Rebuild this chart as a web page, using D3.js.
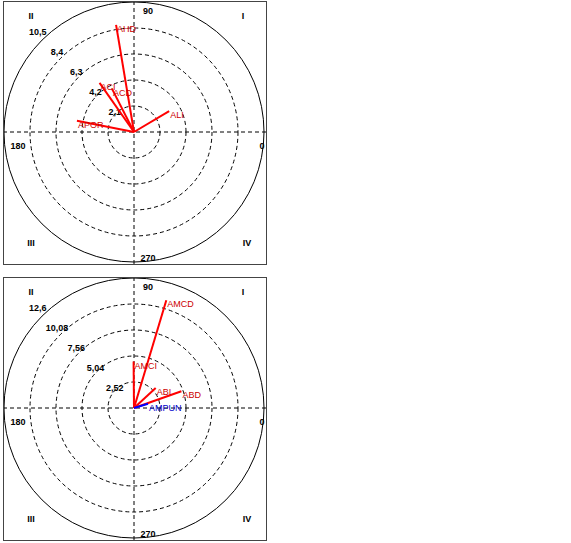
<!DOCTYPE html>
<html>
<head>
<meta charset="utf-8">
<script src="https://cdn.jsdelivr.net/npm/d3@7"></script>
<style>
  body { margin: 0; background: #fff; }
  svg { display: block; }
  text { font-family: "Liberation Sans", Arial, sans-serif; }
</style>
</head>
<body>
<svg width="571" height="543"></svg>
<script>
// top panel vectors (magnitude, angle in degrees)
const topNames = ['AHD', 'ACI', 'ACD', 'ALI', 'APOR'];
const topValues = [8.77, 4.85, 3.93, 3.3, 4.7];
const topAngles = [99.5, 125, 117, 30.6, 168.8];
const topColors = ['red', 'red', 'red', 'red', 'red'];
const topRings = ['2,1', '4,2', '6,3', '8,4', '10,5'];
const topMax = 10.5;

// bottom panel vectors
const botNames = ['AMCD', 'AMCI', 'ABI', 'ABD', 'AMPUN'];
const botValues = [10.9, 4.5, 2.86, 4.87, 1.42];
const botAngles = [73.3, 90.5, 42.7, 19.4, 17];
const botColors = ['red', 'red', 'red', 'red', 'blue'];
const botRings = ['2,52', '5,04', '7,56', '10,08', '12,6'];
const botMax = 12.6;

const quadrants = ['I', 'II', 'III', 'IV'];
const axisLabels = ['0', '90', '180', '270'];

const svg = d3.select('svg');
const W = 264, H = 264;
const R = 130;

function drawPanel(x0, y0, names, values, angles, colors, rings, maxVal, id) {
  const g = svg.append('g')
    .attr('transform', 'translate(' + x0 + ',' + y0 + ')');
  const cx = 131, cy = 131;

  g.append('clipPath').attr('id', id)
    .append('rect').attr('width', W).attr('height', H);

  const r = d3.scaleLinear().domain([0, maxVal]).range([0, R]);
  const ringVals = d3.range(1, rings.length + 1).map(i => maxVal * i / rings.length);
  const pt = (v, a) => [cx + r(v) * Math.cos(a * Math.PI / 180), cy - r(v) * Math.sin(a * Math.PI / 180)];

  const inner = g.append('g').attr('clip-path', 'url(#' + id + ')');

  // rings
  inner.selectAll('circle.ring')
    .data(ringVals)
    .join('circle')
      .attr('class', 'ring')
      .attr('cx', cx).attr('cy', cy)
      .attr('r', d => r(d))
      .attr('fill', 'none')
      .attr('stroke', '#000')
      .attr('stroke-width', 1)
      .attr('stroke-dasharray', (d, i) => i === rings.length - 1 ? null : '4,3');

  // axes
  inner.append('line')
    .attr('x1', 0).attr('x2', W).attr('y1', cy).attr('y2', cy)
    .attr('stroke', '#000').attr('stroke-dasharray', '4,3');
  inner.append('line')
    .attr('x1', cx).attr('x2', cx).attr('y1', 0).attr('y2', H)
    .attr('stroke', '#000').attr('stroke-dasharray', '4,3');

  // ring labels
  g.selectAll('text.ringlab')
    .data(ringVals)
    .join('text')
      .attr('class', 'ringlab')
      .attr('x', d => pt(d * 1.065, 134)[0])
      .attr('y', d => pt(d * 1.065, 134)[1] + 3)
      .attr('text-anchor', 'middle')
      .attr('font-size', 9)
      .attr('font-weight', 'bold')
      .text((d, i) => rings[i]);

  // axis labels
  const axPos = [[W - 5, cy + 17], [cx + 14, 13], [15, cy + 17], [cx + 14, H - 4]];
  g.selectAll('text.axlab')
    .data(axisLabels)
    .join('text')
      .attr('class', 'axlab')
      .attr('x', (d, i) => axPos[i][0])
      .attr('y', (d, i) => axPos[i][1])
      .attr('text-anchor', 'middle')
      .attr('font-size', 9)
      .attr('font-weight', 'bold')
      .text(d => d);

  // quadrant labels
  const qPos = [[W - 24, 18], [28, 18], [28, H - 19], [W - 20, H - 19]];
  g.selectAll('text.quad')
    .data(quadrants)
    .join('text')
      .attr('class', 'quad')
      .attr('x', (d, i) => qPos[i][0])
      .attr('y', (d, i) => qPos[i][1])
      .attr('text-anchor', 'middle')
      .attr('font-size', 9)
      .attr('font-weight', 'bold')
      .text(d => d);

  // vectors
  const vecs = names.map((n, i) => ({ name: n, v: values[i], a: angles[i], c: colors[i] }));
  g.selectAll('line.vec')
    .data(vecs)
    .join('line')
      .attr('class', 'vec')
      .attr('x1', cx).attr('y1', cy)
      .attr('x2', d => pt(d.v, d.a)[0])
      .attr('y2', d => pt(d.v, d.a)[1])
      .attr('stroke', d => d.c === 'blue' ? '#0000ff' : '#ff0000')
      .attr('stroke-width', 2);

  g.selectAll('text.veclab')
    .data(vecs)
    .join('text')
      .attr('class', 'veclab')
      .attr('x', d => pt(d.v, d.a)[0] + 1)
      .attr('y', d => pt(d.v, d.a)[1] + 7)
      .attr('font-size', 9)
      .attr('fill', d => d.c === 'blue' ? '#0000cc' : '#cc0000')
      .text(d => d.name);

  // frame
  g.append('rect')
    .attr('x', 0.5).attr('y', 0.5)
    .attr('width', W - 1).attr('height', H - 1)
    .attr('fill', 'none')
    .attr('stroke', '#444');
}

drawPanel(3, 1, topNames, topValues, topAngles, topColors, topRings, topMax, 'clipTop');
drawPanel(3, 277, botNames, botValues, botAngles, botColors, botRings, botMax, 'clipBot');
</script>
</body>
</html>
